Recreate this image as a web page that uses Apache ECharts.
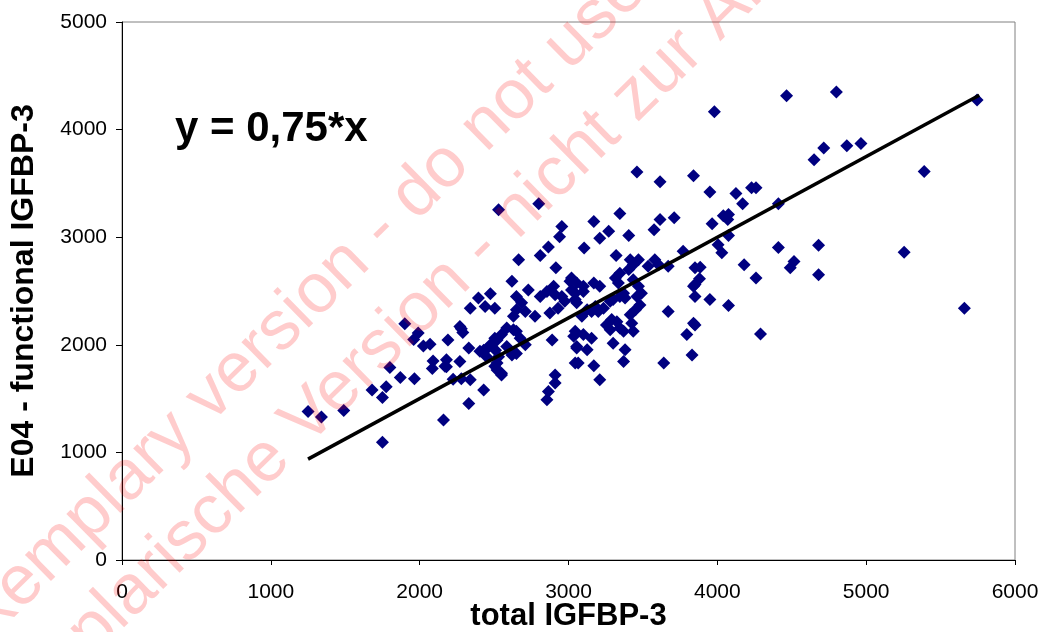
<!DOCTYPE html>
<html>
<head>
<meta charset="utf-8">
<script src="https://cdn.jsdelivr.net/npm/echarts@6/dist/echarts.min.js"></script>
<style>html,body{margin:0;padding:0;background:#fff;}#chart{width:1039px;height:632px;}</style>
</head>
<body>
<div id="chart"></div>
<script>
// total IGFBP-3 (x) vs E04 - functional IGFBP-3 (y)
const totalIGFBP3 = [
 1250,1340,1490,1750,1680,1750,1775,1800,1870,1900,1965,1960,1990,2025,2070,2090,2085,2160,2190,2180,
 2180,2225,2280,2290,2270,2280,2330,2330,2340,2340,2430,2440,2505,2405,2450,2520,2550,2520,2585,2620,
 2630,2430,2450,2510,2520,2395,2475,
 2955,2940,2865,2810,2665,2915,2620,2730,3010,2650,2685,2650,2630,2710,2775,2810,2855,2900,2910,2955,
 2975,3020,3045,2875,2930,2585,2550,2505,2475,2650,2675,2710,2650,2610,2530,2505,2550,2890,3035,3055,
 3045,2270,2170,2910,2910,2865,2855,2530,2800,
 3460,3615,3840,3345,3170,3270,3210,3405,3615,3575,3710,3105,3320,3415,3470,3435,3405,3345,3315,3335,
 3580,3535,3605,3670,3770,3850,3840,3850,3435,3470,3490,3460,3370,3380,3345,3300,3480,3450,3415,3280,
 3235,3200,3155,3210,3170,3100,3055,3020,3045,3100,3055,3090,3125,3180,3670,3840,3795,3830,3290,3325,
 3255,3345,3425,3435,3370,3280,3045,3100,3155,3055,3125,3065,3170,3300,3380,3370,3210,3640,
 3980,4465,4800,4715,4650,4870,4965,3950,4125,4170,4230,4260,4410,3965,4040,4075,4070,4075,4005,4030,
 4410,4680,4180,4260,4490,4515,4680,3885,3880,3850,3950,4075,3850,4290,5745,5390,5255,5660
];
const functionalIGFBP3 = [
 1380,1330,1390,1095,1580,1510,1610,1790,1695,2195,1685,2050,2110,1990,2005,1850,1780,1300,2045,1860,
 1795,1680,2150,2115,1845,1685,1970,1455,1675,2340,1580,2355,2340,1940,1960,1830,1720,2045,1985,1905,
 2140,1950,1890,1950,1765,2435,2475,
 3100,3005,2910,2830,2790,2715,2590,2510,2590,2450,2390,2325,2265,2310,2265,2450,2495,2545,2465,2450,
 2405,2510,2420,2295,2340,2155,2095,2060,2000,2125,2060,2000,1920,1940,1890,1800,1735,2045,2080,1985,
 1830,2170,1800,1720,1645,1565,1490,3255,3310,
 3605,3515,3570,3220,3145,3055,2990,3015,3165,3070,3180,2900,2830,2790,2790,2745,2700,2665,2620,2575,
 2790,2730,2745,2730,2870,2715,2545,2450,2605,2545,2480,2450,2480,2435,2450,2420,2370,2325,2280,2405,
 2340,2310,2310,2545,2575,2545,2575,2620,2480,2495,2390,2265,2325,2355,2310,2200,2095,1905,2235,2215,
 2185,2155,2200,2125,2125,2140,2125,2095,2060,1970,1955,1830,1805,2015,1955,1845,1675,1830,
 4165,4315,4350,3830,3720,3850,3870,3420,3405,3310,3460,3460,3310,3125,3200,3210,3165,3015,2930,2855,
 2905,2925,2745,2620,2715,2775,2650,2720,2615,2560,2420,2365,2185,2100,4275,3610,2860,2340
];
// regression line y = 0.75 * x, drawn over the observed x range
const fitSlope = 0.75;
const fitX = [1250, 5760];
const xTicks = [0, 1000, 2000, 3000, 4000, 5000, 6000];
const yTicks = [0, 1000, 2000, 3000, 4000, 5000];
const equationText = 'y = 0,75*x';
const xTitle = 'total IGFBP-3';
const yTitle = 'E04 - functional IGFBP-3';
const watermark1 = 'Exemplary version - do not use';
const watermark2 = 'Exemplarische Version - nicht zur Anwendung';

const FONT = 'Arial, "Liberation Sans", Helvetica, sans-serif';
const points = totalIGFBP3.map((x, i) => [x, functionalIGFBP3[i]]);
const fitLine = fitX.map(x => [x, fitSlope * x]);

const chart = echarts.init(document.getElementById('chart'), null, {renderer: 'canvas'});
chart.setOption({
  animation: false,
  backgroundColor: '#ffffff',
  grid: {left: 122, top: 22, right: 24, bottom: 72, containLabel: false, outerBoundsMode: 'none',
         show: true, borderColor: '#808080', borderWidth: 1, backgroundColor: 'transparent'},
  xAxis: {
    type: 'value', min: xTicks[0], max: xTicks[xTicks.length - 1], interval: 1000,
    name: xTitle, nameLocation: 'middle', nameGap: 41, nameMoveOverlap: false,
    nameTextStyle: {fontFamily: FONT, fontSize: 31, fontWeight: 'bold', color: '#000'},
    axisLine: {show: true, onZero: false, lineStyle: {color: '#000', width: 1}},
    axisTick: {show: true, inside: false, length: 5, lineStyle: {color: '#000'}},
    axisLabel: {fontFamily: FONT, fontSize: 21, color: '#000', margin: 22, formatter: v => String(v)},
    splitLine: {show: false}
  },
  yAxis: {
    type: 'value', min: yTicks[0], max: yTicks[yTicks.length - 1], interval: 1000,
    name: yTitle, nameLocation: 'middle', nameGap: 82, nameMoveOverlap: false,
    nameTextStyle: {fontFamily: FONT, fontSize: 32, fontWeight: 'bold', color: '#000'},
    axisLine: {show: true, onZero: false, lineStyle: {color: '#000', width: 1}},
    axisTick: {show: true, inside: false, length: 6, lineStyle: {color: '#000'}},
    axisLabel: {fontFamily: FONT, fontSize: 21, color: '#000', margin: 15, formatter: v => String(v)},
    splitLine: {show: false}
  },
  series: [
    {type: 'scatter', data: points, symbol: 'diamond', symbolSize: 13,
     itemStyle: {color: '#000080', opacity: 1}, z: 2},
    {type: 'line', data: fitLine, showSymbol: false, symbol: 'none',
     lineStyle: {color: '#000', width: 3.5}, z: 3}
  ],
  graphic: [
    {type: 'text', left: 175, top: 108, z: 10,
     style: {text: equationText, font: 'bold 42px ' + FONT, fill: '#000'}},
    {type: 'text', x: 292, y: 317, rotation: 0.777, z: 100, silent: true,
     style: {text: watermark1, font: '70px ' + FONT, fill: 'rgba(255,0,0,0.2)', align: 'center', verticalAlign: 'middle'}},
    {type: 'text', x: 461, y: 269, rotation: 0.777, z: 100, silent: true,
     style: {text: watermark2, font: '70px ' + FONT, fill: 'rgba(255,0,0,0.2)', align: 'center', verticalAlign: 'middle'}}
  ]
});
</script>
</body>
</html>
